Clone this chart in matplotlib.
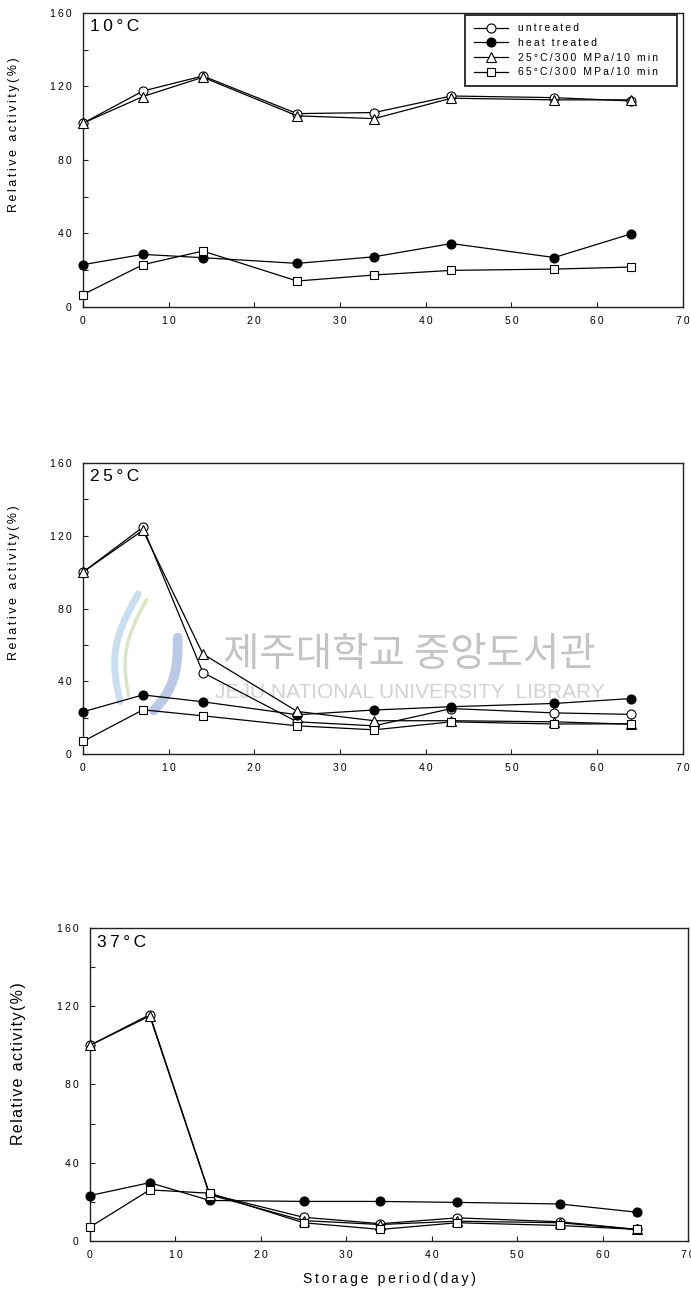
import matplotlib
matplotlib.use('Agg')
import matplotlib.pyplot as plt
from matplotlib.ticker import MultipleLocator, FuncFormatter
import numpy as np

plt.rcParams['font.family'] = ['Liberation Sans', 'DejaVu Sans']

# storage days
days = [0, 7, 14, 25, 34, 43, 55, 64]

# relative activity (%) at 10 C storage
untreated_10 = [100, 117.5, 125.7, 105.2, 105.8, 114.8, 113.9, 112.1]
heat_10      = [23.0, 28.6, 26.8, 23.7, 27.3, 34.5, 26.9, 39.8]
hp25_10      = [100, 114.5, 125.0, 104.0, 102.5, 113.6, 112.7, 112.7]
hp65_10      = [6.7, 23.0, 30.4, 14.1, 17.4, 19.9, 20.6, 21.7]

# 25 C storage
untreated_25 = [100, 124.7, 44.8, 17.7, 15.5, 25.0, 22.6, 21.8]
heat_25      = [23.2, 32.5, 28.7, 21.6, 24.2, 26.0, 27.8, 30.5]
hp25_25      = [100, 123.0, 55.0, 23.4, 18.3, 18.3, 17.7, 16.4]
hp65_25      = [6.9, 24.3, 21.0, 15.5, 13.3, 17.7, 16.5, 16.6]

# 37 C storage
untreated_37 = [100, 115.7, 24.0, 12.1, 8.8, 11.8, 9.8, 5.9]
heat_37      = [23.2, 29.8, 20.7, 20.2, 20.2, 19.7, 18.9, 14.7]
hp25_37      = [100, 115.0, 23.6, 10.4, 8.4, 10.1, 9.3, 5.9]
hp65_37      = [7.1, 26.1, 24.4, 9.3, 5.9, 9.3, 7.9, 5.9]

labels = ['untreated', 'heat treated', '25°C/300 MPa/10 min', '65°C/300 MPa/10 min']
panel_names = ['10°C', '25°C', '37°C']


def spaced(s, sep='\u2009'):
    return sep.join(s)


styles = [
    dict(marker='o', mfc='white', ms=6.5),
    dict(marker='o', mfc='black', ms=6.5),
    dict(marker='^', mfc='white', ms=6.5),
    dict(marker='s', mfc='white', ms=6.0),
]

panels = [
    (untreated_10, heat_10, hp25_10, hp65_10),
    (untreated_25, heat_25, hp25_25, hp65_25),
    (untreated_37, heat_37, hp25_37, hp65_37),
]

# axes boxes in figure fractions
boxes = [
    [0.120, 0.7628, 0.868, 0.2272],
    [0.120, 0.4173, 0.868, 0.2249],
    [0.1302, 0.0410, 0.8654, 0.2419],
]
ylabel_y = [0.585, 0.588, 0.565]

fig = plt.figure(figsize=(6.91, 12.94), dpi=100)

for i, (series, box) in enumerate(zip(panels, boxes)):
    ax = fig.add_axes(box)
    for vals, st in zip(series, styles):
        ax.plot(days, vals, color='black', lw=0.9, mec='black', mew=0.8,
                zorder=3, clip_on=False, **st)

    ax.set_xlim(0, 70)
    ax.set_ylim(0, 160)
    ax.xaxis.set_major_locator(MultipleLocator(10))
    ax.yaxis.set_major_locator(MultipleLocator(40))
    ax.yaxis.set_minor_locator(MultipleLocator(20))
    fmt = FuncFormatter(lambda v, p: spaced(f'{v:g}'))
    ax.xaxis.set_major_formatter(fmt)
    ax.yaxis.set_major_formatter(fmt)
    ax.tick_params(which='both', direction='in', length=3.5, width=0.8,
                   labelsize=7.5, color='#222222')
    ax.tick_params(axis='y', pad=8)
    ax.tick_params(axis='x', pad=6.5)
    for sp in ax.spines.values():
        sp.set_linewidth(1.0)
        sp.set_color('#222222')

    ax.text(0.012, 0.953, spaced(panel_names[i]), transform=ax.transAxes,
            fontsize=12.5, va='center', ha='left')

    if i < 2:
        ax.set_ylabel(spaced('Relative activity(%)'), fontsize=9)
        ax.yaxis.set_label_coords(-0.105, ylabel_y[i])
    else:
        ax.set_ylabel(spaced('Relative activity(%)', '\u200a'), fontsize=11.5)
        ax.yaxis.set_label_coords(-0.107, ylabel_y[i])
        ax.set_xlabel(spaced('Storage period(day)'), fontsize=10, labelpad=9)

    if i == 0:
        # trailing em space keeps the right margin of the box
        leg = ax.legend([spaced(s) + '\u2003' for s in labels], loc='upper right',
                        bbox_to_anchor=(0.993, 1.0), borderaxespad=0.15,
                        fontsize=7.5, handlelength=3.3, handletextpad=0.9,
                        labelspacing=0.45, borderpad=0.85, fancybox=False,
                        framealpha=1, edgecolor='#222222')
        leg.get_frame().set_linewidth(1.3)

    if i == 1:
        # library watermark
        ax.text(0.545, 0.34, '제주대학교 중앙도서관', transform=ax.transAxes,
                family=['Noto Sans CJK KR', 'DejaVu Sans'], fontsize=28.5,
                color='#c4c4c4', ha='center', va='center', zorder=1)
        ax.text(0.545, 0.21, 'JEJU NATIONAL UNIVERSITY  LIBRARY', transform=ax.transAxes,
                fontsize=15, color='#d2d2d2', ha='center', va='center', zorder=1)
        t = np.linspace(0, 1, 60)
        ax.plot(0.062 - 0.022 * np.sin(np.pi * t) + 0.03 * t, 0.18 + 0.37 * t,
                color='#b9d8ec', lw=5, alpha=0.8, transform=ax.transAxes,
                zorder=1, solid_capstyle='round')
        ax.plot(0.076 - 0.018 * np.sin(np.pi * t) + 0.03 * t, 0.20 + 0.33 * t,
                color='#cfe1b4', lw=2.5, alpha=0.8, transform=ax.transAxes,
                zorder=1, solid_capstyle='round')
        ax.plot(0.158 - 0.04 * (1 - t) ** 3, 0.15 + 0.25 * t, color='#a9bde0',
                lw=7, alpha=0.8, transform=ax.transAxes, zorder=1,
                solid_capstyle='round')

fig.savefig('out.png', dpi=100)
